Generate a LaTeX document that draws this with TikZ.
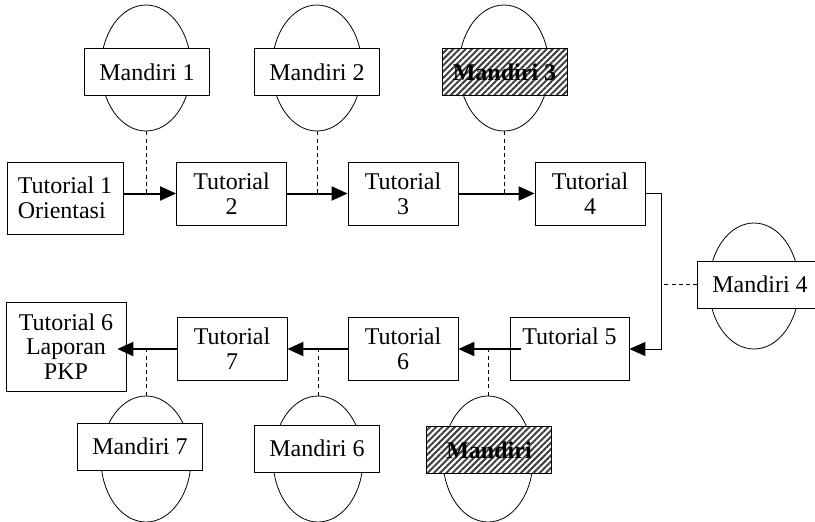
\documentclass[tikz,border=0pt]{standalone}
\usepackage{fontspec}
\setmainfont{Liberation Serif}
\usetikzlibrary{shapes.geometric,arrows.meta,patterns.meta,calc}

\begin{document}
\begin{tikzpicture}[x=0.5pt,y=-0.5pt,font=\fontsize{12}{12.4}\selectfont,
		tut/.style={draw,rectangle,align=center,minimum width=55pt,minimum height=31.5pt,inner sep=1pt},
		oval/.style={draw,ellipse,minimum width=45pt,minimum height=63pt,inner sep=0pt},
		mand/.style={draw,rectangle,fill=white,minimum width=62.5pt,minimum height=23.5pt,inner sep=1pt},
		hatch/.style={mand,preaction={fill=white},pattern={Lines[angle=45,distance=2.2pt,line width=1pt]},pattern color=black!75,font=\fontsize{12}{12.4}\selectfont\bfseries},
		flow/.style={line width=1pt,-{Triangle[length=8pt,width=7pt]}},
		link/.style={dash pattern=on 2pt off 1.6pt}]
	\useasboundingbox (0,0) rectangle (815,521);

	% atas
	\node[tut,minimum width=58pt,minimum height=36pt,align=left] (t1) at (65,198) {Tutorial 1\\Orientasi};
	\node[tut] (t2) at (231.5,193.5) {Tutorial\\2};
	\node[tut] (t3) at (403,193.5) {Tutorial\\3};
	\node[tut] (t4) at (590,193.5) {Tutorial\\4};

	% bawah
	\node[tut,minimum width=59.5pt] (t5) at (569.5,349) {Tutorial 5\\\mbox{}};
	\node[tut] (t6) at (403,349) {Tutorial\\6};
	\node[tut] (t7) at (232,349) {Tutorial\\7};
	\node[tut,minimum width=60pt,minimum height=44.5pt] (fin) at (66,346.5) {Tutorial 6\\Laporan\\PKP};

	% mandiri
	\node[oval] (e1) at (146,68) {};
	\node[mand] (m1) at (147,72) {Mandiri 1};
	\node[oval] (e2) at (317,68) {};
	\node[mand] (m2) at (317,72) {Mandiri 2};
	\node[oval] (e3) at (504,68) {};
	\node[hatch] (m3) at (504.5,72) {Mandiri 3};
	\node[oval] (e4) at (754,286) {};
	\node[mand] (m4) at (760,284.5) {Mandiri 4};
	\node[oval] (e5) at (488,459) {};
	\node[hatch] (m5) at (489,450) {Mandiri};
	\node[oval] (e6) at (318,459) {};
	\node[mand] (m6) at (317,448.5) {Mandiri 6};
	\node[oval] (e7) at (146,459) {};
	\node[mand] (m7) at (140,446.5) {Mandiri 7};

	\draw[flow] (t1.east |- t2.west) -- (t2.west);
	\draw[flow] (t2) -- (t3);
	\draw[flow] (t3) -- (t4);
	\coordinate (turn) at ($(t4.east)+(8pt,0)$);
	\draw[flow,line width=0.5pt,line join=miter] (t4.east) -- (turn) |- (t5.east);
	\draw[flow] ($(t5.west)+(5.5pt,0)$) -- (t6.east);
	\draw[flow] (t6) -- (t7);
	\draw[flow] (t7.west) -- ([xshift=-4.5pt]t7.west -| fin.east);

	\draw[link] (e1.south) -- (e1.south |- t2.west);
	\draw[link] (e2.south) -- (e2.south |- t3.west);
	\draw[link] (e3.south) -- (e3.south |- t4.west);
	\draw[link] (m4.west) -- (m4.west -| turn);
	\draw[link] (e5.north) -- (e5.north |- t6.east);
	\draw[link] (e6.north) -- (e6.north |- t7.east);
	\draw[link] (e7.north) -- (e7.north |- t7.west);
\end{tikzpicture}
\end{document}
